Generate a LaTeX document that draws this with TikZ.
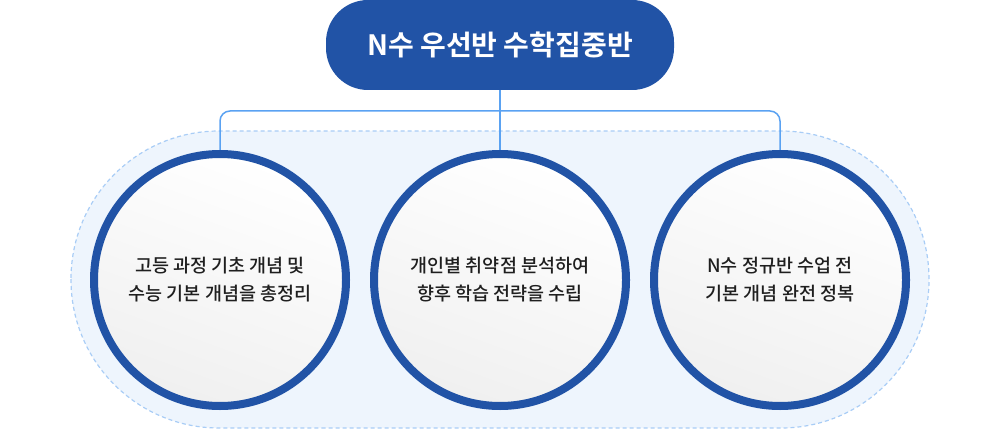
\documentclass[tikz,border=0pt]{standalone}
\usepackage{fontspec}
\setmainfont{Noto Sans CJK KR}[BoldFont={Noto Sans CJK KR Bold}]
\newfontfamily\medkr{Noto Sans CJK KR Medium}
\definecolor{navy}{HTML}{2153A6}
\definecolor{linkblue}{HTML}{5AA2F2}
\definecolor{bgblue}{HTML}{EEF5FD}
\definecolor{dashblue}{HTML}{A9CDF6}
\tikzset{
  stage/.style={circle, minimum size=252pt, draw=navy, line width=8pt, top color=white, bottom color=gray!12, shading angle=-20, align=center, font=\medkr\fontsize{18.5}{28}\selectfont, text=black!88},
  link/.style={draw=linkblue, line width=1.5pt, rounded corners=10pt}
}
\begin{document}
\begin{tikzpicture}[x=1pt,y=-1pt]
\useasboundingbox (0,0) rectangle (1000,430);
\draw[fill=bgblue, draw=dashblue, line width=1.2pt, dash pattern=on 4pt off 3pt, rounded corners=148pt] (71,131) rectangle (929,428);
\node[fill=navy, rounded corners=42pt, minimum width=348pt, minimum height=90pt, text=white, font=\fontsize{28}{32}\selectfont\bfseries] (top) at (500,45) {N수 우선반 수학집중반};
\node[stage] (c1) at (220,280) {고등 과정 기초 개념 및\\수능 기본 개념을 총정리};
\node[stage] (c2) at (500,280) {개인별 취약점 분석하여\\향후 학습 전략을 수립};
\node[stage] (c3) at (780,280) {N수 정규반 수업 전\\기본 개념 완전 정복};
\draw[link] (top.south) -- (c2.north);
\draw[link] (c1.north) -- (220,111) -- (780,111) -- (c3.north);
\end{tikzpicture}
\end{document}
